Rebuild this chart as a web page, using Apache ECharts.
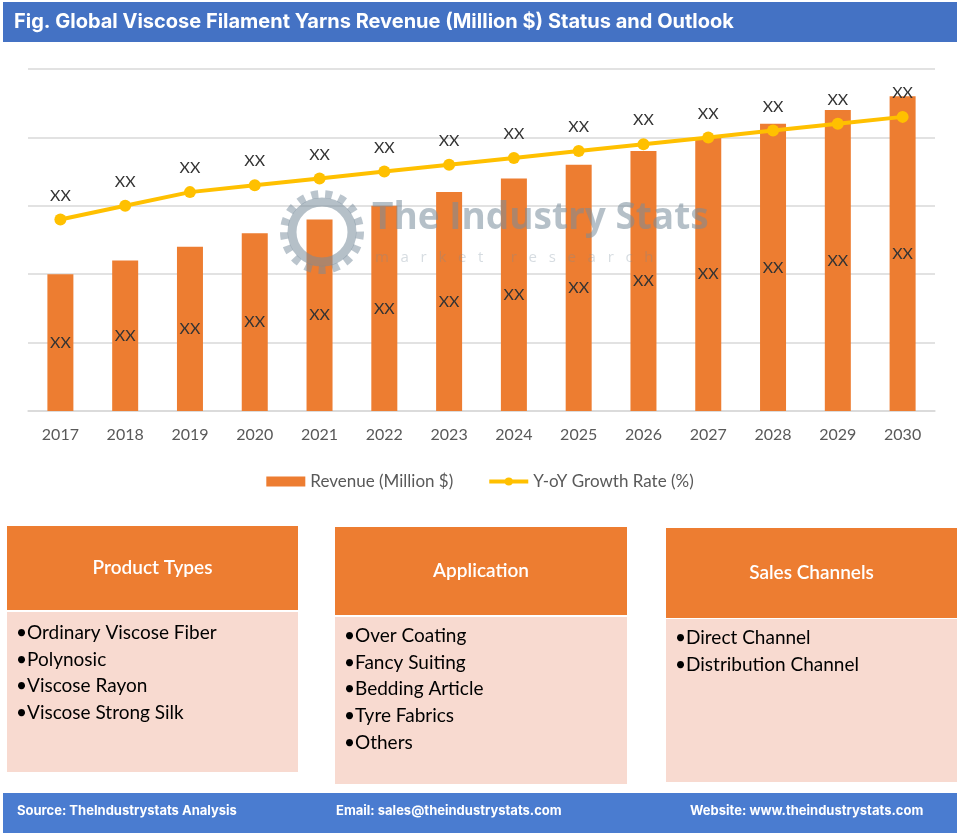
<!DOCTYPE html>
<html>
<head>
<meta charset="utf-8">
<script src="https://cdn.jsdelivr.net/npm/echarts@6/dist/echarts.min.js"></script>
<style>
html,body{margin:0;padding:0;background:#fff;}
#main{width:960px;height:835px;}
</style>
</head>
<body>
<div id="main"></div>
<script>
var years = ['2017','2018','2019','2020','2021','2022','2023','2024','2025','2026','2027','2028','2029','2030'];
var revenue = [20, 22, 24, 26, 28, 30, 32, 34, 36, 38, 40, 42, 44, 46];
var growth = [28, 30, 32, 33, 34, 35, 36, 37, 38, 39, 40, 41, 42, 43];
var yTicks = [0, 10, 20, 30, 40, 50];
var titleText = 'Fig. Global Viscose Filament Yarns Revenue (Million $) Status and Outlook';
var productTypes = ['Ordinary Viscose Fiber', 'Polynosic', 'Viscose Rayon', 'Viscose Strong Silk'];
var applications = ['Over Coating', 'Fancy Suiting', 'Bedding Article', 'Tyre Fabrics', 'Others'];
var salesChannels = ['Direct Channel', 'Distribution Channel'];
var footerTexts = ['Source: TheIndustrystats Analysis', 'Email: sales@theindustrystats.com', 'Website: www.theindustrystats.com'];

var chart = echarts.init(document.getElementById('main'), null, {renderer: 'canvas'});

var ORANGE = '#ED7D31', PINK = '#F8DAD0';
function box(x, w, hy, hh, by, bh, title, items, textY0) {
  var els = [];
  els.push({type:'rect', shape:{x:x, y:hy, width:w, height:hh}, style:{fill:ORANGE}});
  els.push({type:'rect', shape:{x:x, y:by, width:w, height:bh}, style:{fill:PINK}});
  els.push({type:'text', x:x + w/2, y:hy + hh/2, style:{text:title, fill:'#fff', font:'600 19px Lato', align:'center', verticalAlign:'middle'}});
  items.forEach(function(t, i){
    els.push({type:'text', x:x + 9, y:textY0 + i*26.6, style:{text:'\u2022' + t, fill:'#000', font:'19px Lato', align:'left', verticalAlign:'middle'}});
  });
  return els;
}

var graphics = [];
graphics.push({type:'rect', shape:{x:3, y:2, width:954, height:40}, style:{fill:'#4472C4'}});
graphics.push({type:'text', x:14, y:22, style:{text:titleText, fill:'#fff', font:'bold 20px Inter', verticalAlign:'middle'}});
// watermark
graphics.push({type:'group', silent:true, z:100, children:[
  {type:'circle', z:100, shape:{cx:322, cy:232, r:30}, style:{fill:'none', stroke:'rgba(120,140,155,0.55)', lineWidth:9}},
  {type:'circle', z:100, shape:{cx:322, cy:232, r:38}, style:{fill:'none', stroke:'rgba(120,140,155,0.5)', lineWidth:8, lineDash:[7,7]}},
  {type:'text', z:100, x:372, y:218, style:{text:'The Industry Stats', fill:'rgba(120,140,155,0.55)', font:'bold 37px "Open Sans"', verticalAlign:'middle'}},
  {type:'text', z:100, x:375, y:258, style:{text:'m   a   r   k   e   t       r   e   s   e   a   r   c   h', fill:'rgba(120,140,155,0.3)', font:'15px "Open Sans"', verticalAlign:'middle'}}
]});
graphics = graphics.concat(box(7, 291, 526, 84, 612, 160, 'Product Types', productTypes, 633));
graphics = graphics.concat(box(335, 292, 527, 88, 617, 167, 'Application', applications, 636));
graphics = graphics.concat(box(666, 291, 528, 90, 619, 163, 'Sales Channels', salesChannels, 638));
graphics.push({type:'rect', shape:{x:3, y:793, width:954, height:40}, style:{fill:'#4A7CD0'}});
graphics.push({type:'text', x:17, y:811, style:{text:footerTexts[0], fill:'#fff', font:'bold 13px Inter', verticalAlign:'middle'}});
graphics.push({type:'text', x:336, y:811, style:{text:footerTexts[1], fill:'#fff', font:'bold 13px Inter', verticalAlign:'middle'}});
graphics.push({type:'text', x:690, y:811, style:{text:footerTexts[2], fill:'#fff', font:'bold 13px Inter', verticalAlign:'middle'}});

chart.setOption({
  animation: false,
  textStyle: {fontFamily: 'Lato'},
  grid: {left: 28, right: 25, top: 69, bottom: 424, containLabel: false},
  legend: {
    top: 468, left: 'center', itemGap: 34, itemWidth: 39, itemHeight: 10,
    textStyle: {color: '#595959', fontSize: 17, fontFamily: 'Lato'},
    data: [
      {name:'Revenue (Million $)', icon:'rect'},
      {name:'Y-oY Growth Rate (%)', lineStyle:{width:4}}
    ]
  },
  xAxis: {
    type: 'category', data: years,
    axisLine: {lineStyle: {color: '#d9d9d9', width: 1.5}},
    axisTick: {show: false},
    axisLabel: {color: '#595959', fontSize: 16, margin: 16, fontFamily: 'Lato'}
  },
  yAxis: {
    type: 'value', min: yTicks[0], max: yTicks[yTicks.length-1], interval: yTicks[1]-yTicks[0],
    axisLabel: {show: false}, axisLine: {show: false}, axisTick: {show: false},
    splitLine: {lineStyle: {color: '#d9d9d9', width: 1.5}}
  },
  series: [
    {
      name: 'Revenue (Million $)', type: 'bar', data: revenue, barWidth: 26,
      itemStyle: {color: ORANGE},
      label: {show: true, position: 'inside', formatter: 'XX', color: '#333', fontSize: 16, fontFamily: 'Lato'}
    },
    {
      name: 'Y-oY Growth Rate (%)', type: 'line', data: growth,
      itemStyle: {color: '#FFC000'}, lineStyle: {color: '#FFC000', width: 4},
      symbol: 'circle', symbolSize: 12,
      label: {show: true, position: 'top', distance: 10, formatter: 'XX', color: '#333', fontSize: 16, fontFamily: 'Lato'}
    }
  ],
  graphic: graphics
});
</script>
</body>
</html>
